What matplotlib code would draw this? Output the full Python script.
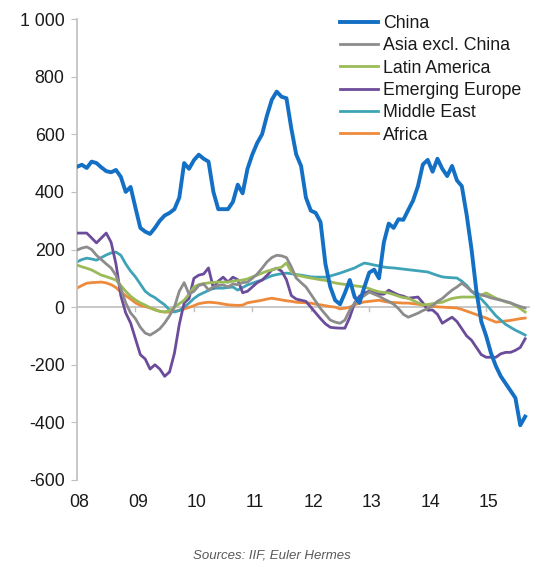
import matplotlib
matplotlib.use('Agg')
import matplotlib.pyplot as plt
import matplotlib.transforms as mtransforms
import numpy as np

plt.rcParams['font.family'] = ['Liberation Sans', 'DejaVu Sans']

# monthly values, Jan 2008 .. Sep 2015
china = [487, 494, 483, 505, 500, 485, 472, 468, 476, 452, 400, 417,
         345, 275, 262, 254, 275, 300, 318, 327, 340, 380, 500, 480,
         510, 529, 515, 505, 400, 340, 340, 340, 365, 425, 395, 480,
         530, 570, 600, 665, 720, 748, 730, 725, 620, 530, 490, 380,
         335, 327, 295, 150, 70, 24, 10, 49, 94, 35, 15, 70,
         120, 130, 100, 225, 290, 275, 305, 303, 337, 370, 420, 495,
         511, 470, 515, 480, 455, 490, 440, 420, 320, 200, 55, -50,
         -100, -160, -205, -240, -265, -290, -315, -410, -380]
asia = [198, 205, 209, 200, 180, 165, 150, 136, 110, 65, 15, -20,
        -40, -70, -90, -97, -87, -75, -55, -30, 0, 55, 85, 45,
        55, 75, 80, 60, 70, 75, 77, 70, 80, 78, 85, 87,
        100, 115, 135, 157, 172, 180, 178, 172, 140, 101, 85, 70,
        45, 20, -5, -25, -45, -52, -56, -45, -10, 14, 28, 40,
        52, 45, 38, 28, 20, 10, -5, -25, -35, -28, -21, -12,
        -5, 5, 20, 30, 45, 59, 70, 83, 70, 55, 48, 42,
        38, 32, 28, 24, 20, 15, 8, 2, -3]
latam = [146, 140, 135, 129, 120, 111, 106, 100, 94, 75, 55, 38,
         25, 15, 7, -2, -10, -14, -17, -12, 0, 12, 24, 45,
         70, 78, 82, 84, 86, 87, 87, 87, 90, 92, 94, 98,
         105, 111, 118, 125, 129, 134, 139, 153, 122, 111, 108, 104,
         101, 98, 95, 93, 88, 84, 81, 79, 77, 74, 72, 70,
         64, 58, 53, 51, 49, 44, 38, 33, 31, 23, 15, 8,
         9, 12, 15, 17, 24, 30, 33, 35, 35, 35, 35, 42,
         49, 40, 31, 25, 18, 14, 5, -5, -17]
em_europe = [257, 257, 257, 240, 223, 240, 257, 225, 150, 40, -20, -55,
             -110, -165, -180, -215, -200, -215, -240, -225, -160, -60, 15, 30,
             100, 111, 115, 136, 66, 90, 104, 87, 104, 95, 50, 55,
             70, 85, 94, 110, 129, 135, 125, 95, 40, 28, 24, 20,
             0, -20, -40, -58, -70, -72, -73, -73, -35, 15, 38, 49,
             55, 50, 45, 45, 59, 50, 42, 38, 31, 33, 35, 15,
             -10, -10, -25, -56, -45, -35, -50, -75, -100, -115, -140, -165,
             -174, -174, -174, -162, -157, -157, -150, -140, -110]
mideast = [157, 165, 170, 167, 163, 172, 181, 188, 191, 180, 150, 125,
           105, 80, 55, 42, 33, 20, 8, -10, -17, -12, 0, 14,
           30, 42, 50, 58, 65, 66, 66, 68, 70, 59, 68, 77,
           83, 89, 94, 102, 109, 113, 116, 118, 116, 113, 111, 108,
           105, 104, 104, 104, 108, 113, 118, 124, 130, 136, 145, 153,
           150, 146, 143, 139, 137, 136, 134, 132, 130, 128, 126, 124,
           122, 116, 110, 105, 103, 102, 101, 90, 75, 55, 40, 28,
           10, -10, -30, -45, -60, -70, -80, -88, -97]
africa = [66, 75, 83, 85, 86, 87, 84, 78, 68, 52, 40, 28,
          15, 6, 2, -3, -8, -15, -17, -17, -14, -11, -6, -1,
          5, 12, 15, 17, 16, 14, 11, 8, 7, 6, 7, 15,
          18, 21, 24, 28, 31, 28, 25, 22, 20, 17, 16, 15,
          14, 10, 8, 5, 2, 0, -6, -4, 0, 8, 14, 18,
          20, 22, 24, 20, 17, 16, 15, 14, 14, 12, 10, 7,
          5, 3, 1, 0, -1, -2, -3, -8, -14, -20, -26, -32,
          -38, -45, -52, -50, -48, -46, -43, -40, -38]

series_names = ['China', 'Asia excl. China', 'Latin America',
                'Emerging Europe', 'Middle East', 'Africa']
series_values = [china, asia, latam, em_europe, mideast, africa]
colors = ['#1470C4', '#8C8C8C', '#9BBB59', '#6B4C9A', '#3FA3B8', '#EE8A3C']
widths = [2.8, 2.0, 2.0, 2.0, 2.0, 2.0]

year_labels = ['08', '09', '10', '11', '12', '13', '14', '15']
y_ticks = [-600, -400, -200, 0, 200, 400, 600, 800, 1000]
y_labels = ['-600', '-400', '-200', '0', '200', '400', '600', '800', '1 000']
source = 'Sources: IIF, Euler Hermes'

months = np.arange(len(china))
fs = 12.8

fig = plt.figure(figsize=(5.44, 5.67), dpi=100)
ax = fig.add_axes([77/544, 1 - 480/567, 453/544, 461/567])

ax.axhline(0, color='#BFBFBF', lw=1.2, zorder=1)
for i, name in enumerate(series_names):
    ax.plot(months, series_values[i], color=colors[i], lw=widths[i],
            label=name, zorder=6 - i if i else 7)

ax.set_xlim(0, 93)
ax.set_ylim(-600, 1000)
ax.set_yticks(y_ticks)
ax.set_yticklabels(y_labels, fontsize=fs, color='#1a1a1a')
ax.tick_params(axis='y', direction='out', length=4, color='#BFBFBF', pad=5)

for s in ['top', 'right', 'bottom']:
    ax.spines[s].set_visible(False)
ax.spines['left'].set_color('#BFBFBF')
ax.spines['left'].set_linewidth(1.2)

# year ticks sit on the zero line, labels below the plot
ax.set_xticks([])
tr = mtransforms.blended_transform_factory(ax.transData, ax.transAxes)
for k, lab in enumerate(year_labels):
    m = 12 * k
    if k:
        ax.plot([m, m], [0, -14], color='#BFBFBF', lw=1.0, zorder=1)
    ax.text(m + 0.5, -0.048, lab, transform=tr, ha='center', va='center',
            fontsize=fs, color='#1a1a1a')

leg = ax.legend(loc='upper left', bbox_to_anchor=(340/544, 1 - 15/567),
                bbox_transform=fig.transFigure, frameon=False, fontsize=fs,
                handlelength=2.15, handletextpad=0.25, labelspacing=0.3,
                borderpad=0, borderaxespad=0)
for t in leg.get_texts():
    t.set_color('#1a1a1a')

fig.text(272/544, 1 - 555/567, source, ha='center', va='center',
         fontsize=9.5, style='italic', color='#595959')

fig.savefig('out.png', dpi=100)
